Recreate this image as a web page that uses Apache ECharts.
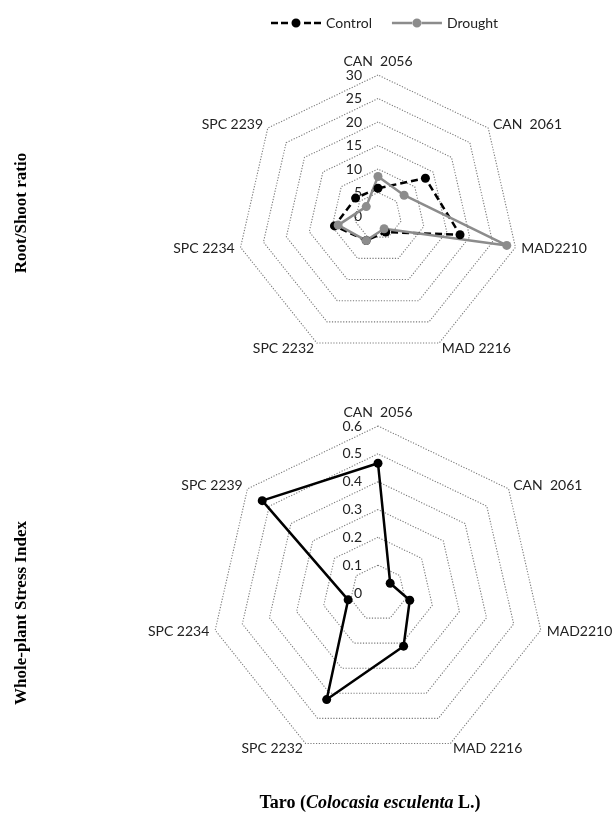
<!DOCTYPE html>
<html>
<head>
<meta charset="utf-8">
<script src="https://cdn.jsdelivr.net/npm/echarts@6/dist/echarts.min.js"></script>
<style>html,body{margin:0;padding:0;background:#fff}#c{width:613px;height:826px}</style>
</head>
<body>
<div id="c"></div>
<script>
// categories in clockwise order starting at top
const categories = ['CAN  2056', 'CAN  2061', 'MAD2210', 'MAD 2216', 'SPC 2232', 'SPC 2234', 'SPC 2239'];
const rootShootControl = [5.9, 12.9, 17.9, 3.8, 5.8, 9.5, 6.1];
const rootShootDrought = [8.4, 7.1, 28.1, 3.0, 5.8, 8.7, 3.2];
const stressIndex = [0.466, 0.056, 0.117, 0.212, 0.425, 0.110, 0.532];
const rootShootTicks = [0, 5, 10, 15, 20, 25, 30];
const stressTicks = [0, 0.1, 0.2, 0.3, 0.4, 0.5, 0.6];

// ECharts places indicators counter-clockwise; reorder to get clockwise order
function cw(arr) { return [arr[0]].concat(arr.slice(1).reverse()); }

const FONT = 'Lato';
function indicators(maxV) {
  return cw(categories).map((n, i) => {
    const o = { name: n, min: 0, max: maxV };
    if (i === 0) o.axisLabel = { show: true };
    return o;
  });
}
function radarCfg(center, radius, ticks) {
  return {
    center: center, radius: radius, shape: 'polygon', startAngle: 90,
    splitNumber: ticks.length - 1,
    indicator: indicators(ticks[ticks.length - 1]),
    axisName: { color: '#222', fontFamily: FONT, fontSize: 14 },
    nameGap: 6,
    axisLine: { show: false },
    axisTick: { show: false },
    axisLabel: { show: false, color: '#222', fontFamily: FONT, fontSize: 14, margin: 16,
      formatter: v => String(Math.round(v * 100) / 100) },
    splitLine: { lineStyle: { color: '#7a7a7a', type: [1.2, 1.6], width: 1.1 } },
    splitArea: { show: false }
  };
}

const dashedIcon = 'path://M0,3.25h7v2.5h-7z M10,3.25h7v2.5h-7z M33,3.25h7v2.5h-7z M43,3.25h7v2.5h-7z M20.5,4.5a4.5,4.5 0 1,0 9,0a4.5,4.5 0 1,0 -9,0z';
const solidIcon = 'path://M0,3.25h21v2.5h-21z M29,3.25h21v2.5h-21z M20.5,4.5a4.5,4.5 0 1,0 9,0a4.5,4.5 0 1,0 -9,0z';

const chart = echarts.init(document.getElementById('c'));
chart.setOption({
  animation: false,
  legend: {
    top: 11, left: 266, itemWidth: 50, itemHeight: 9, itemGap: 20,
    textStyle: { fontFamily: FONT, fontSize: 14, color: '#222' },
    data: [{ name: 'Control', icon: dashedIcon }, { name: 'Drought', icon: solidIcon }]
  },
  radar: [
    radarCfg([378, 216], 141, rootShootTicks),
    radarCfg([378, 593], 167, stressTicks)
  ],
  graphic: [
    { type: 'text', x: 22, y: 213, rotation: Math.PI / 2,
      style: { text: 'Root/Shoot ratio', font: 'bold 17px "Liberation Serif"', fill: '#000', align: 'center', verticalAlign: 'middle' } },
    { type: 'text', x: 22, y: 613, rotation: Math.PI / 2,
      style: { text: 'Whole-plant Stress Index', font: 'bold 17px "Liberation Serif"', fill: '#000', align: 'center', verticalAlign: 'middle' } },
    { type: 'text', x: 370, y: 803,
      style: { text: '{b|Taro (}{i|Colocasia esculenta}{b| L.)}', align: 'center', verticalAlign: 'middle',
        rich: {
          b: { fontFamily: 'Liberation Serif', fontWeight: 'bold', fontSize: 18, fill: '#000', color: '#000' },
          i: { fontFamily: 'Liberation Serif', fontWeight: 'bold', fontStyle: 'italic', fontSize: 18, fill: '#000', color: '#000' }
        } } }
  ],
  series: [
    {
      type: 'radar', radarIndex: 0, symbol: 'circle', symbolSize: 9,
      data: [
        { name: 'Control', value: cw(rootShootControl),
          lineStyle: { color: '#000', width: 2.5, type: [7, 4] },
          itemStyle: { color: '#000' } },
        { name: 'Drought', value: cw(rootShootDrought),
          lineStyle: { color: '#8c8c8c', width: 2.5, type: 'solid' },
          itemStyle: { color: '#8c8c8c' } }
      ]
    },
    {
      type: 'radar', radarIndex: 1, symbol: 'circle', symbolSize: 9,
      data: [
        { name: 'Stress', value: cw(stressIndex),
          lineStyle: { color: '#000', width: 2.5 },
          itemStyle: { color: '#000' } }
      ]
    }
  ]
});
</script>
</body>
</html>
